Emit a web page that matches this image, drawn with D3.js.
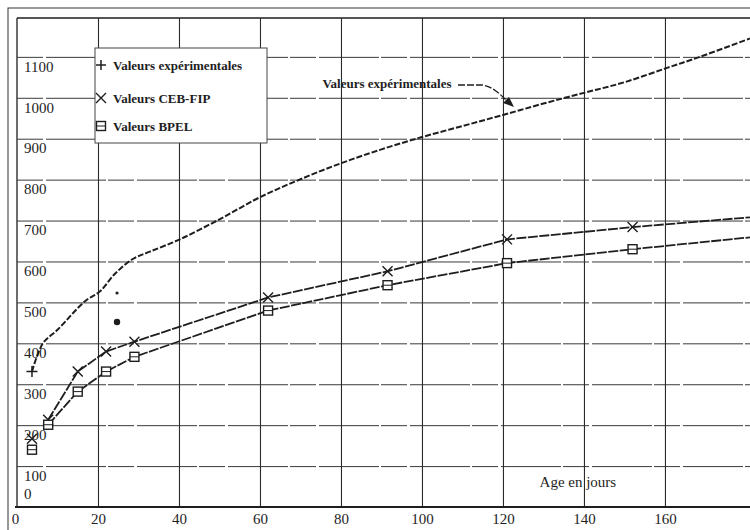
<!DOCTYPE html>
<html><head><meta charset="utf-8">
<script src="https://cdn.jsdelivr.net/npm/d3@7"></script>
<style>
html,body{margin:0;padding:0;background:#fff;}
svg{display:block;font-family:"Liberation Serif","Times New Roman",serif;}
</style></head>
<body><svg id="c" width="750" height="530"></svg>
<script>
// ---- data ----
const xTicks = [0, 20, 40, 60, 80, 100, 120, 140, 160];
const yTicks = [0, 100, 200, 300, 400, 500, 600, 700, 800, 900, 1000, 1100];

const expDays = [3.7, 6.4, 10, 16.8, 20.5, 24.2, 28.6, 32.8, 40.2, 50, 60, 70, 80, 90, 100, 110, 120, 130, 140, 150, 160.5, 168.6, 181];
const expVals = [331, 400, 433, 503, 527, 570, 606, 624, 654, 703, 757, 801, 840, 874, 904, 931, 958, 986, 1012, 1038, 1073, 1100, 1145];
const expMarkDays = [3.7];
const expMarkVals = [331];

const cebDays = [3.7, 7.7, 15, 22, 29, 62, 91.5, 121, 152, 181];
const cebVals = [167, 213, 331, 380, 404, 512, 576, 654, 684, 708];
const bpelDays = [3.7, 7.7, 15, 22, 29, 62, 91.5, 121, 152, 181];
const bpelVals = [140, 201, 282, 331, 367, 480, 542, 596, 630, 659];

const dotDays = [24.7, 24.7];
const dotVals = [452, 523];
const dotSizes = [3.2, 1.6];

const legendLabels = ["Valeurs expérimentales", "Valeurs CEB-FIP", "Valeurs BPEL"];
const annotationText = "Valeurs expérimentales";
const xTitle = "Age en jours";

// ---- layout ----
const svg = d3.select("#c");
const ink = "#1e1e1e";
const x = d3.scaleLinear().domain([0, 181]).range([17, 750]);
const y = d3.scaleLinear().domain([0, 1195]).range([507, 18]);

// outer frame
svg.append("rect").attr("x", 8).attr("y", 8).attr("width", 800).attr("height", 600)
  .attr("fill", "none").attr("stroke", "#333").attr("stroke-width", 1);

// plot frame (top + left)
svg.append("line").attr("x1", 17).attr("x2", 750).attr("y1", 18).attr("y2", 18).attr("stroke", ink).attr("stroke-width", 1.3);
svg.append("line").attr("x1", 17).attr("x2", 17).attr("y1", 18).attr("y2", 507).attr("stroke", ink).attr("stroke-width", 1.3);

// horizontal grid
const gy = svg.append("g").attr("transform", "translate(17,0)")
  .call(d3.axisRight(y).tickValues(yTicks.filter(d => d > 0)).tickSize(733).tickFormat(""));
gy.select(".domain").remove();
gy.selectAll("line").attr("stroke", "#3a3a3a").attr("stroke-width", 1).attr("stroke-dasharray", "26,3,60,2");

// vertical grid
const gx = svg.append("g").attr("transform", "translate(0,507)")
  .call(d3.axisBottom(x).tickValues(xTicks.filter(d => d > 0)).tickSize(-489).tickFormat(""));
gx.select(".domain").remove();
gx.selectAll("line").attr("stroke", "#2a2a2a").attr("stroke-width", 1.1);

// bottom axis line
svg.append("line").attr("x1", 15).attr("x2", 750).attr("y1", 507).attr("y2", 507).attr("stroke", ink).attr("stroke-width", 2.2);

// y labels inside the plot
const yl = svg.append("g").attr("transform", "translate(17,0)")
  .call(d3.axisRight(y).tickValues(yTicks).tickSize(0).tickPadding(7).tickFormat(d3.format("d")));
yl.select(".domain").remove();
yl.selectAll("text").attr("font-size", 15).attr("fill", ink)
  .attr("font-family", "Liberation Serif, serif")
  .attr("dy", d => d === 0 ? "-0.55em" : "0.95em");

// x labels
const xl = svg.append("g").attr("transform", "translate(0,507)")
  .call(d3.axisBottom(x).tickValues(xTicks).tickSize(0).tickPadding(6).tickFormat(d3.format("d")));
xl.select(".domain").remove();
xl.selectAll("text").attr("font-size", 15).attr("fill", ink)
  .attr("font-family", "Liberation Serif, serif")
  .attr("dx", d => d === 0 ? -2 : 0);

// x title
svg.append("text").attr("x", x(138.5)).attr("y", 487).attr("text-anchor", "middle")
  .attr("font-size", 15).attr("fill", ink).text(xTitle);

// ---- series ----
const expLine = d3.line().x((d, i) => x(expDays[i])).y(d => y(d)).curve(d3.curveCatmullRom.alpha(0.5));
svg.append("path").attr("d", expLine(expVals)).attr("fill", "none").attr("stroke", ink)
  .attr("stroke-width", 2).attr("stroke-dasharray", "6,2");

const lin = (days) => d3.line().x((d, i) => x(days[i + 1])).y(d => y(d));
svg.append("path").attr("d", lin(cebDays)(cebVals.slice(1))).attr("fill", "none").attr("stroke", ink)
  .attr("stroke-width", 1.8).attr("stroke-dasharray", "10,1.5");
svg.append("path").attr("d", lin(bpelDays)(bpelVals.slice(1))).attr("fill", "none").attr("stroke", ink)
  .attr("stroke-width", 1.8).attr("stroke-dasharray", "10,1.5");

// markers
function plus(g, cx, cy, s) {
  g.append("path").attr("d", `M${cx - s},${cy}H${cx + s}M${cx},${cy - s}V${cy + s}`)
    .attr("stroke", ink).attr("stroke-width", 1.5).attr("fill", "none");
}
function cross(g, cx, cy, s) {
  g.append("path").attr("d", `M${cx - s},${cy - s}L${cx + s},${cy + s}M${cx + s},${cy - s}L${cx - s},${cy + s}`)
    .attr("stroke", ink).attr("stroke-width", 1.4).attr("fill", "none");
}
function box(g, cx, cy, s) {
  g.append("rect").attr("x", cx - s).attr("y", cy - s).attr("width", 2 * s).attr("height", 2 * s)
    .attr("fill", "#fff").attr("stroke", ink).attr("stroke-width", 1.4);
  g.append("line").attr("x1", cx - s).attr("x2", cx + s).attr("y1", cy).attr("y2", cy)
    .attr("stroke", ink).attr("stroke-width", 1);
}
const mk = svg.append("g");
expMarkDays.forEach((d, i) => plus(mk, x(d), y(expMarkVals[i]), 5.5));
cebDays.slice(0, -1).forEach((d, i) => cross(mk, x(d), y(cebVals[i]), 5));
bpelDays.slice(0, -1).forEach((d, i) => box(mk, x(d), y(bpelVals[i]), 4.5));

// stray points
dotDays.forEach((d, i) => mk.append("circle").attr("cx", x(d)).attr("cy", y(dotVals[i])).attr("r", dotSizes[i]).attr("fill", ink));

// ---- legend ----
const lg = svg.append("g");
lg.append("rect").attr("x", 95).attr("y", 48).attr("width", 172).attr("height", 95)
  .attr("fill", "#fff").attr("stroke", "#444").attr("stroke-width", 1);
const ly = [65, 98, 126];
plus(lg, 101, ly[0], 5);
cross(lg, 101, ly[1], 5);
box(lg, 101, ly[2], 4.5);
legendLabels.forEach((t, i) => lg.append("text").attr("x", 113).attr("y", ly[i] + 4.5)
  .attr("font-size", 13).attr("font-weight", "bold").attr("fill", ink).text(t));

// ---- annotation ----
svg.append("text").attr("x", 387).attr("y", 88).attr("text-anchor", "middle")
  .attr("font-size", 13).attr("font-weight", "bold").attr("fill", ink).text(annotationText);
svg.append("path").attr("d", "M458,85H482C492,86 500,94 507,101")
  .attr("fill", "none").attr("stroke", ink).attr("stroke-width", 1.3).attr("stroke-dasharray", "7,2");
svg.append("path").attr("d", "M514,107L503,103L509,97Z").attr("fill", ink);
</script></body></html>
